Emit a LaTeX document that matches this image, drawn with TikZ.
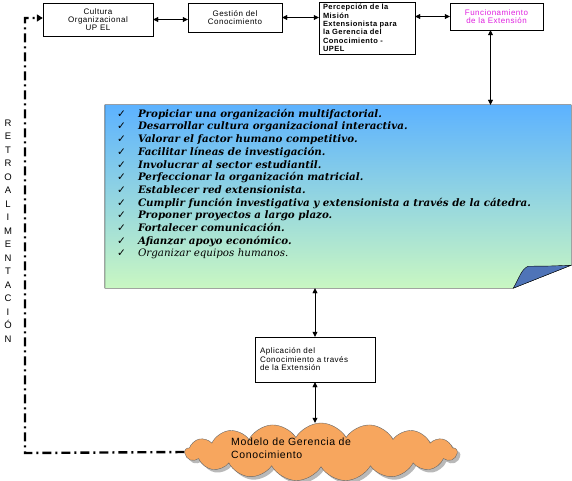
\documentclass[tikz,border=0pt]{standalone}
\usepackage{fontspec}
\setmainfont{Liberation Sans}
\newfontfamily\boxfont[LetterSpace=6]{Liberation Sans}
\newfontfamily\listfont{DejaVu Serif}
\newfontfamily\symfont{DejaVu Sans}
\usepackage{tikz}
\usetikzlibrary{calc,arrows.meta,positioning,shapes.symbols,shadows}

\definecolor{noteblue}{HTML}{5CB2FF}
\definecolor{notegreen}{HTML}{C9F7C2}
\definecolor{foldblue}{HTML}{4F74B8}
\definecolor{cloudorange}{HTML}{F7A65E}
\definecolor{extmagenta}{HTML}{E020E0}

\newcommand{\chk}{\makebox[21pt][l]{\symfont\fontsize{10.5}{10}\selectfont ✓}}

\begin{document}
\begin{tikzpicture}[
    x=1pt, y=-1pt,
    box/.style={rectangle, draw=black, thin, fill=white, align=center,
                inner sep=1pt, font=\boxfont\fontsize{8}{8}\selectfont},
    notebox/.style={rectangle, draw=none, minimum width=466pt, minimum height=183pt, inner sep=0pt},
    listtext/.style={align=left, anchor=north west, inner sep=0pt,
                font=\listfont\bfseries\itshape\fontsize{10.3}{12.7}\selectfont},
    twoway/.style={{Triangle[length=5pt,width=5pt]}-{Triangle[length=5pt,width=5pt]}, thin},
    feedback/.style={-{Triangle[length=6pt,width=7pt]}, line width=2.4pt,
                dash pattern=on 9pt off 4pt on 2pt off 4pt}
]
\useasboundingbox (0,0) rectangle (572,481);

% ================= TOP ROW =================
\node[box, minimum width=110pt, minimum height=33pt] (Cultura) at (98,19.5)
    {Cultura\\Organizacional\\UP EL};

\node[box, minimum width=94pt, minimum height=29pt] (Gestion) at (235,17.5)
    {Gestión del\\Conocimiento};

\node[box, minimum width=96pt, minimum height=52pt, text width=88pt, align=left,
      font=\boxfont\bfseries\fontsize{7.5}{8.3}\selectfont] (Percepcion) at (367,28)
    {Percepción de la\\Misión\\Extensionista para\\la Gerencia del\\Conocimiento -\\UPEL};

\node[box, minimum width=93pt, minimum height=27pt, text=extmagenta] (Funcion) at (496.5,16.5)
    {Funcionamiento\\de la Extensión};

% ================= NOTE =================
\node[notebox] (Note) at (338,196.5) {};
\shade[top color=noteblue, bottom color=notegreen, draw=black, thin]
    (Note.north west) -- (Note.north east) -- ($(Note.south east)+(0,-23)$)
    -- ($(Note.south east)+(-58,0)$) -- (Note.south west) -- cycle;
\filldraw[fill=foldblue, draw=black, thin]
    ($(Note.south east)+(-58,0)$) .. controls ($(Note.south east)+(-52,-10)$) and ($(Note.south east)+(-50,-19)$) .. ($(Note.south east)+(-43,-22)$)
    .. controls ($(Note.south east)+(-25,-22)$) .. ($(Note.south east)+(0,-23)$) -- cycle;

\node[listtext] (List) at ($(Note.north west)+(12,4)$)
    {\chk Propiciar una organización multifactorial.\\
     \chk Desarrollar cultura organizacional interactiva.\\
     \chk Valorar el factor humano competitivo.\\
     \chk Facilitar líneas de investigación.\\
     \chk Involucrar al sector estudiantil.\\
     \chk Perfeccionar la organización matricial.\\
     \chk Establecer red extensionista.\\
     \chk Cumplir función investigativa y extensionista a través de la cátedra.\\
     \chk Proponer proyectos a largo plazo.\\
     \chk Fortalecer comunicación.\\
     \chk Afianzar apoyo económico.\\
     \chk {\mdseries Organizar equipos humanos.}};

% ================= BOTTOM =================
\node[box, minimum width=120pt, minimum height=45pt, text width=110pt, align=left,
      font=\boxfont\fontsize{8}{8.5}\selectfont] (Aplicacion) at (315,359.5)
    {Aplicación del\\Conocimiento a través\\de la Extensión};

\node[cloud, cloud puffs=17, cloud puff arc=120, aspect=4.5, draw=black!60, fill=cloudorange,
      drop shadow={shadow xshift=3pt, shadow yshift=-3pt, fill=black!55},
      minimum width=272pt, minimum height=58pt, inner sep=0pt] (Cloud) at (321,452) {};
\node[anchor=west, align=left, inner sep=0pt, font=\boxfont\fontsize{10.5}{13.5}\selectfont]
    (CloudText) at (231,448) {Modelo de Gerencia de\\Conocimiento};

\node[align=center, font=\fontsize{9.5}{13.5}\selectfont] (Retro) at (8,231)
    {R\\E\\T\\R\\O\\A\\L\\I\\M\\E\\N\\T\\A\\C\\I\\Ó\\N};

\coordinate (FbBottom) at (25,453);
\coordinate (FbTop) at (25,18);

% ================= DRAWING ARROWS =================
\draw[twoway] (Cultura.east) -- (Cultura.east -| Gestion.west);
\draw[twoway] (Gestion.east) -- (Gestion.east -| Percepcion.west);
\draw[twoway] (Funcion.west -| Percepcion.east) -- (Funcion.west);
\draw[twoway] ([xshift=-6pt]Funcion.south) -- ([xshift=-6pt]Funcion.south |- Note.north);
\draw[twoway] (Aplicacion.north) -- (Aplicacion.north |- Note.south);
\draw[twoway] (Aplicacion.south) -- (Aplicacion.south |- Cloud.north);
\draw[feedback] (Cloud.west) -- (FbBottom) -- (FbTop) -- (FbTop -| Cultura.west);

\end{tikzpicture}
\end{document}
